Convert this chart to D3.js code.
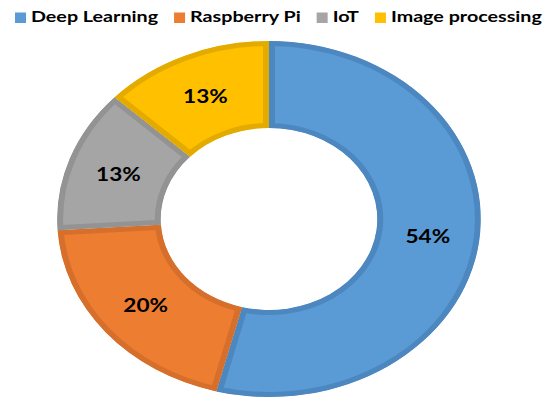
<!DOCTYPE html>
<html><head><meta charset="utf-8">
<script src="https://cdn.jsdelivr.net/npm/d3@7"></script>
<style>body{margin:0;background:#fff}svg{display:block}</style>
</head><body>
<script>
const categories = ["Deep Learning", "Raspberry Pi", "IoT", "Image processing"];
const values = [54, 20, 13, 13];
const labels = ["54%", "20%", "13%", "13%"];
const fills = ["#5b9bd5", "#ed7d31", "#a5a5a5", "#ffc000"];
const borders = ["#4d87c0", "#d66f2b", "#939393", "#e3ab00"];

const W = 550, H = 409;
const cx = 269, cy = 219, sx = 1.19;
const rOuter = 178, rInner = 91;
const font = "Lato, 'Open Sans', sans-serif";

const svg = d3.select("body").append("svg").attr("width", W).attr("height", H);
const defs = svg.append("defs");

const pie = d3.pie().sort(null).value(d => d)(values);
const arc = d3.arc().innerRadius(rInner).outerRadius(rOuter);
const labelArc = d3.arc().innerRadius((rInner + rOuter) / 2).outerRadius((rInner + rOuter) / 2);

const g = svg.append("g").attr("transform", `translate(${cx},${cy}) scale(${sx},1)`);

pie.forEach((d, i) => {
  defs.append("clipPath").attr("id", "clip" + i)
    .append("path").attr("d", arc(d));
});

g.selectAll("path.slice").data(pie).join("path")
  .attr("class", "slice")
  .attr("d", arc)
  .attr("fill", (d, i) => fills[i])
  .attr("stroke", (d, i) => borders[i])
  .attr("stroke-width", 10)
  .attr("clip-path", (d, i) => `url(#clip${i})`);

g.selectAll("text.lbl").data(pie).join("text")
  .attr("class", "lbl")
  .attr("x", d => labelArc.centroid(d)[0])
  .attr("y", d => labelArc.centroid(d)[1])
  .attr("dy", "0.4em")
  .attr("text-anchor", "middle")
  .attr("font-family", font)
  .attr("font-weight", "bold")
  .attr("font-size", 19)
  .attr("fill", "#000")
  .text((d, i) => labels[i]);

// Legend
const leg = svg.append("g");
const lsx = 1.232;
let x = 15;
const ly = 12.5, sq = 11;
categories.forEach((c, i) => {
  leg.append("rect").attr("x", x).attr("y", ly).attr("width", sq).attr("height", sq - 0.5).attr("fill", fills[i]);
  x += sq + 5;
  const t = leg.append("text")
    .attr("transform", `translate(${x},${ly + 9.8}) scale(${lsx},1)`)
    .attr("font-family", font).attr("font-weight", "bold").attr("font-size", 16)
    .attr("fill", "#000").text(c);
  x += t.node().getComputedTextLength() * lsx + 16;
});
</script>
</body></html>
